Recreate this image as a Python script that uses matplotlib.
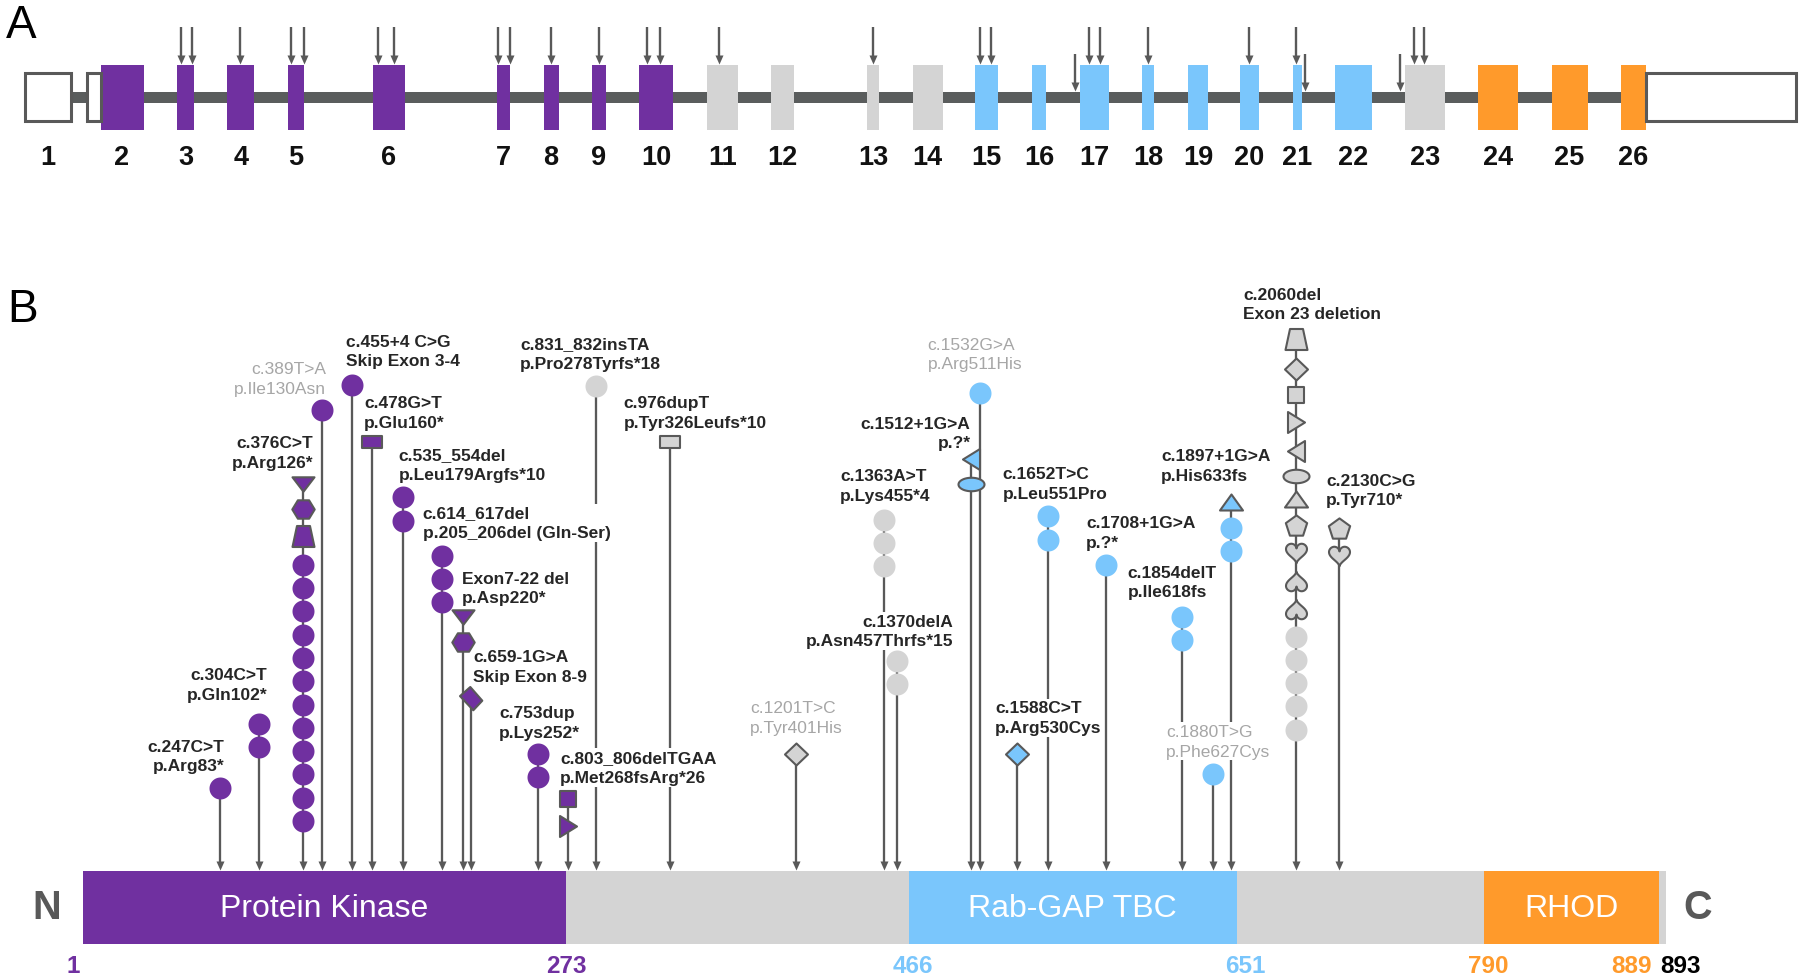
import numpy as np
import matplotlib
matplotlib.use('Agg')
import matplotlib.pyplot as plt
from matplotlib.path import Path

plt.rcParams['font.family'] = ['Liberation Sans', 'DejaVu Sans']

PURPLE = '#7030A0'
BLUE = '#7AC6FC'
GREY = '#D4D4D4'
ORANGE = '#FF9A2B'
DARK = '#595959'
INK = '#262626'
SOFT = '#A6A6A6'
PX = 72 / 100.0          # points per pixel at dpi 100

# ---------------- panel A : exon schematic (schematic units)
exon_start = [25.3, 100.5, 177.4, 227.3, 287.6, 372.6, 496.6, 543.6, 591.8, 638.9,
              706.7, 771.0, 867.4, 912.6, 975.2, 1032.0, 1079.7, 1141.7, 1187.6, 1239.8,
              1292.7, 1335.1, 1405.2, 1478.0, 1551.5, 1621.0]
exon_end = [71.2, 143.5, 194.0, 254.3, 304.2, 404.7, 510.3, 558.5, 606.2, 673.4,
            737.7, 794.0, 879.4, 942.5, 998.2, 1045.8, 1109.0, 1154.3, 1208.3, 1259.4,
            1301.8, 1371.9, 1444.8, 1518.3, 1587.7, 1645.7]
exon_kind = ['utr'] + ['kin'] * 9 + ['oth'] * 4 + ['tbc'] * 8 + ['oth'] + ['rhod'] * 3
utr_start = [87.3, 1645.7]
utr_end = [100.5, 1795.5]
arrow_exon_x = [180.8, 192.3, 240, 291, 303.7, 378.3, 393.8, 498.3, 510.3, 551.1, 598.7,
                647, 660.2, 719.3, 873.1, 979.8, 990.7, 1089.4, 1100.3, 1148, 1248.5,
                1296.1, 1413.8, 1424.1]
arrow_intron_x = [1075.1, 1305.3, 1400]

# ---------------- panel B : protein and variants
prot_len = 893
dom_name = ['Protein Kinase', 'Rab-GAP TBC', 'RHOD']
dom_start = [1, 466, 790]
dom_end = [273, 651, 889]
dom_kind = ['kin', 'tbc', 'rhod']

mut_c = ['c.247C>T', 'c.304C>T', 'c.376C>T', 'c.389T>A', 'c.455+4 C>G', 'c.478G>T',
         'c.535_554del', 'c.614_617del', 'Exon7-22 del', 'c.659-1G>A', 'c.753dup',
         'c.803_806delTGAA', 'c.831_832insTA', 'c.976dupT', 'c.1201T>C', 'c.1363A>T',
         'c.1370delA', 'c.1512+1G>A', 'c.1532G>A', 'c.1588C>T', 'c.1652T>C',
         'c.1708+1G>A', 'c.1854delT', 'c.1880T>G', 'c.1897+1G>A', 'c.2060del', 'c.2130C>G']
mut_p = ['p.Arg83*', 'p.Gln102*', 'p.Arg126*', 'p.Ile130Asn', 'Skip Exon 3-4', 'p.Glu160*',
         'p.Leu179Argfs*10', 'p.205_206del (Gln-Ser)', 'p.Asp220*', 'Skip Exon 8-9',
         'p.Lys252*', 'p.Met268fsArg*26', 'p.Pro278Tyrfs*18', 'p.Tyr326Leufs*10',
         'p.Tyr401His', 'p.Lys455*4', 'p.Asn457Thrfs*15', 'p.?*', 'p.Arg511His',
         'p.Arg530Cys', 'p.Leu551Pro', 'p.?*', 'p.Ile618fs', 'p.Phe627Cys', 'p.His633fs',
         'Exon 23 deletion', 'p.Tyr710*']
# residue where each stem meets the protein (as drawn)
mut_pos = [78, 100, 125, 135.5, 152.4, 163.7, 181.2, 203.1, 214.8, 219.3, 257.5, 274,
           290.1, 331.6, 402.7, 451.9, 459.6, 500.9, 506.1, 527.1, 544.3, 577.3, 620,
           637.5, 647.8, 684.3, 708.3]
mut_kind = ['kin'] * 12 + ['oth'] * 5 + ['tbc'] * 8 + ['oth'] * 2
mut_vus = [False, False, False, True, False, False, False, False, False, False, False,
           False, False, False, True, False, False, False, True, False, False, False,
           False, True, False, False, False]
# one symbol per carrier, top to bottom
mut_cases = [
    ['o'], ['o', 'o'], ['v', 'H', 'trap'] + ['o'] * 12, ['o'], ['o'], ['rect'],
    ['o', 'o'], ['o', 'o', 'o'], ['v', 'H'], ['tilt'], ['o', 'o'], ['sq', '>'],
    ['o'], ['rect'], ['D'], ['o', 'o', 'o'], ['o', 'o'], ['<', 'ell'], ['o'], ['D'],
    ['o', 'o'], ['o'], ['o', 'o'], ['o'], ['^', 'o', 'o'],
    ['trap', 'D', 'sq', '>', '<', 'ell', '^', 'p', 'heart', 'iheart', 'iheart'] + ['o'] * 5,
    ['p', 'heart'],
]

# layout of lollipop heads and labels (pixels)
head_y = [789, 725, 485, 411, 386, 443.3, 498.3, 556.7, 618, 699, 754.6, 800.4, 386.8,
          442.5, 755.4, 520.7, 661.7, 460, 394.3, 754.5, 517.3, 565.7, 617.7, 775, 503,
          340, 529]
lab_side = ['right'] * 4 + ['left'] * 12 + ['right', 'right'] + ['left'] * 9
lab_dx = [4.1, 8.6, 9.9, 4, -6.2, -8, -4.7, -19.3, -1, 2.6, -39.5, -7.7, -76.4, -46.7,
          -46.2, -43.5, 55.7, 0, -52.1, -22.1, -44.8, -20.1, -54.2, -47.2, -70.2, -52.8,
          -12.6]
lab_y = [757, 685.5, 453.3, 379.7, 352, 413.3, 465.3, 523.8, 589, 667.2, 723.2, 768.4,
         354.2, 413.8, 718.4, 486.5, 632, 434, 355, 718.8, 484.5, 533.7, 583, 742.3,
         466.7, 305, 491]

fill = {'kin': PURPLE, 'oth': GREY, 'tbc': BLUE, 'rhod': ORANGE}


def ellipse(w, h, n=60):
    t = np.linspace(0, 2 * np.pi, n, endpoint=False)
    return np.c_[w / 2 * np.cos(t), h / 2 * np.sin(t)]


def heart(w, h, flip=False):
    t = np.linspace(0, 2 * np.pi, 90, endpoint=False)
    x = 16 * np.sin(t) ** 3
    y = 13 * np.cos(t) - 5 * np.cos(2 * t) - 2 * np.cos(3 * t) - np.cos(4 * t)
    x = x / 32 * w
    y = (y - (y.max() + y.min()) / 2) / (y.max() - y.min()) * h
    return np.c_[x, -y if flip else y]


ang = np.deg2rad(90 + 72 * np.arange(5))
# code: (vertices in px, y up), stacking height, outlined
SHAPES = {
    'o': (ellipse(22, 22), 22, False),
    'ell': (ellipse(26, 13.5), 15.5, True),
    'trap': ([(-6.5, 10.5), (6.5, 10.5), (11, -10.5), (-11, -10.5)], 23, True),
    'D': ([(0, 11), (11.5, 0), (0, -11), (-11.5, 0)], 24, True),
    'tilt': ([(-11.5, 2.4), (-1.2, 11.5), (10.8, -2.2), (1.8, -11.8)], 26, True),
    'rect': ([(-10, -6), (10, -6), (10, 6), (-10, 6)], 14, True),
    'sq': ([(-8.2, -7.7), (8.2, -7.7), (8.2, 7.7), (-8.2, 7.7)], 17.5, True),
    'v': ([(-11, 7.2), (11, 7.2), (0, -7.2)], 16.5, True),
    '^': ([(-11.5, -8), (11.5, -8), (0, 8)], 18, True),
    '>': ([(-8.5, -10.5), (-8.5, 10.5), (8.5, 0)], 23, True),
    '<': ([(8.5, -10.5), (8.5, 10.5), (-8.5, 0)], 23, True),
    'H': ([(11.2, 0), (5.6, 9.2), (-5.6, 9.2), (-11.2, 0), (-5.6, -9.2), (5.6, -9.2)], 20.5, True),
    'p': (np.c_[11.2 * np.cos(ang), 11.2 * np.sin(ang) - 1.1], 22, True),
    'heart': (heart(21, 19.5), 22, True),
    'iheart': (heart(21, 19.5, flip=True), 22, True),
}


def marker(verts):
    v = np.asarray(verts, float)
    path = Path(np.vstack([v, v[:1]]), closed=True)
    return path, 2 * np.abs(v).max() * PX


MK = {k: marker(v[0]) for k, v in SHAPES.items()}
HEAD = marker([(0, 0), (-4, 9), (4, 9)])   # arrow head, tip at the origin


def px2aa(x):
    return 1 + (x - 83.2) / 1.775


fig = plt.figure(figsize=(18, 9.79), dpi=100)
axA = fig.add_axes([0, 0, 1, 1], label='A')
axA.set_xlim(0, 1800)
axA.set_ylim(979, 0)
axA.axis('off')

axB = fig.add_axes([0, 0, 1, 1], label='B')
axB.set_xlim(px2aa(0), px2aa(1800))
axB.set_ylim(979, 0)
axB.axis('off')

# ---- panel A
axA.text(6, 26, 'A', fontsize=33, ha='left', va='center', color='black')
axA.barh(98.3, utr_start[1] - exon_end[0], left=exon_end[0], height=10.5, color='#5A5D5D', zorder=1)
es = np.array(exon_start)
ee = np.array(exon_end)
coding = [i for i, k in enumerate(exon_kind) if k != 'utr']
axA.bar(es[coding], 64.7, width=ee[coding] - es[coding], bottom=66, align='edge',
        color=[fill[exon_kind[i]] for i in coding], zorder=2)
utr_l = [exon_start[0]] + utr_start
utr_r = [exon_end[0]] + utr_end
axA.bar(utr_l, 48, width=np.array(utr_r) - np.array(utr_l), bottom=73.5, align='edge',
        facecolor='white', edgecolor=DARK, linewidth=2.2, zorder=2)
for i in range(len(exon_start)):
    axA.text((es[i] + ee[i]) / 2, 158.3, str(i + 1), fontsize=19.5, fontweight='bold',
             ha='center', va='center', color='#111111')
axA.vlines(arrow_exon_x, 28.3, 58, color=DARK, lw=1.7, zorder=3)
axA.plot(arrow_exon_x, [65] * len(arrow_exon_x), ls='none', marker=HEAD[0], ms=HEAD[1],
         color=DARK, mew=0, zorder=3)
axA.vlines(arrow_intron_x, 55, 85, color=DARK, lw=1.7, zorder=3)
axA.plot(arrow_intron_x, [92] * len(arrow_intron_x), ls='none', marker=HEAD[0], ms=HEAD[1],
         color=DARK, mew=0, zorder=3)

# ---- panel B
axB.text(px2aa(7), 310, 'B', fontsize=33, ha='left', va='center', color='black')
bar_y, bar_h = 908.5, 73
axB.barh(bar_y, prot_len - 1, left=1, height=bar_h, color=GREY, zorder=1)
for name, s, e, k in zip(dom_name, dom_start, dom_end, dom_kind):
    axB.barh(bar_y, e - s, left=s, height=bar_h, color=fill[k], zorder=1)
    axB.text((s + e) / 2, bar_y + 1, name, fontsize=23, color='white', ha='center', va='center')
axB.annotate('N', xy=(1, bar_y), xytext=(-16, 0), textcoords='offset points', ha='right',
             va='center', fontsize=28.5, fontweight='bold', color=DARK)
axB.annotate('C', xy=(prot_len, bar_y), xytext=(12, 0), textcoords='offset points', ha='left',
             va='center', fontsize=28.5, fontweight='bold', color=DARK)

ticks = [1, 273, 466, 651, 790, 889, 893]
tick_col = [PURPLE, PURPLE, BLUE, BLUE, ORANGE, ORANGE, 'black']
tick_ha = ['right', 'center', 'center', 'center', 'center', 'right', 'left']
tick_dx = [-3, 0, 4, 8, 5, -8, -6]
for t, c, h, dx in zip(ticks, tick_col, tick_ha, tick_dx):
    axB.annotate(str(t), xy=(t, 966.6), xytext=(dx * PX, 0), textcoords='offset points',
                 ha=h, va='center', fontsize=17.5, fontweight='bold', color=c)

axB.vlines(mut_pos, head_y, 864, color=DARK, lw=1.65, zorder=1)
axB.plot(mut_pos, [871] * len(mut_pos), ls='none', marker=HEAD[0], ms=HEAD[1],
         color=DARK, mew=0, zorder=1)

for i in range(len(mut_pos)):
    y = head_y[i]
    prev = None
    for code in mut_cases[i]:
        h = SHAPES[code][1]
        if prev is not None:
            gap = 1.3 if (prev == 'o' and code == 'o') else 6
            y += (SHAPES[prev][1] + h) / 2 + gap
        path, ms = MK[code]
        edged = SHAPES[code][2]
        axB.plot(mut_pos[i], y, ls='none', marker=path, ms=ms, mfc=fill[mut_kind[i]],
                 mec=DARK if edged else 'none', mew=1.5 if edged else 0, zorder=4)
        prev = code

    side = lab_side[i]
    vus = mut_vus[i]
    axB.annotate(mut_c[i] + '\n' + mut_p[i], xy=(mut_pos[i], lab_y[i]),
                 xytext=(lab_dx[i] * PX, 0), textcoords='offset points',
                 ha=side, ma=side, va='center', fontsize=12.5,
                 fontweight='normal' if vus else 'bold', color=SOFT if vus else INK,
                 linespacing=1.4, zorder=3,
                 bbox=dict(facecolor='white', edgecolor='none', pad=1.2))

fig.savefig('out.png', dpi=100)
